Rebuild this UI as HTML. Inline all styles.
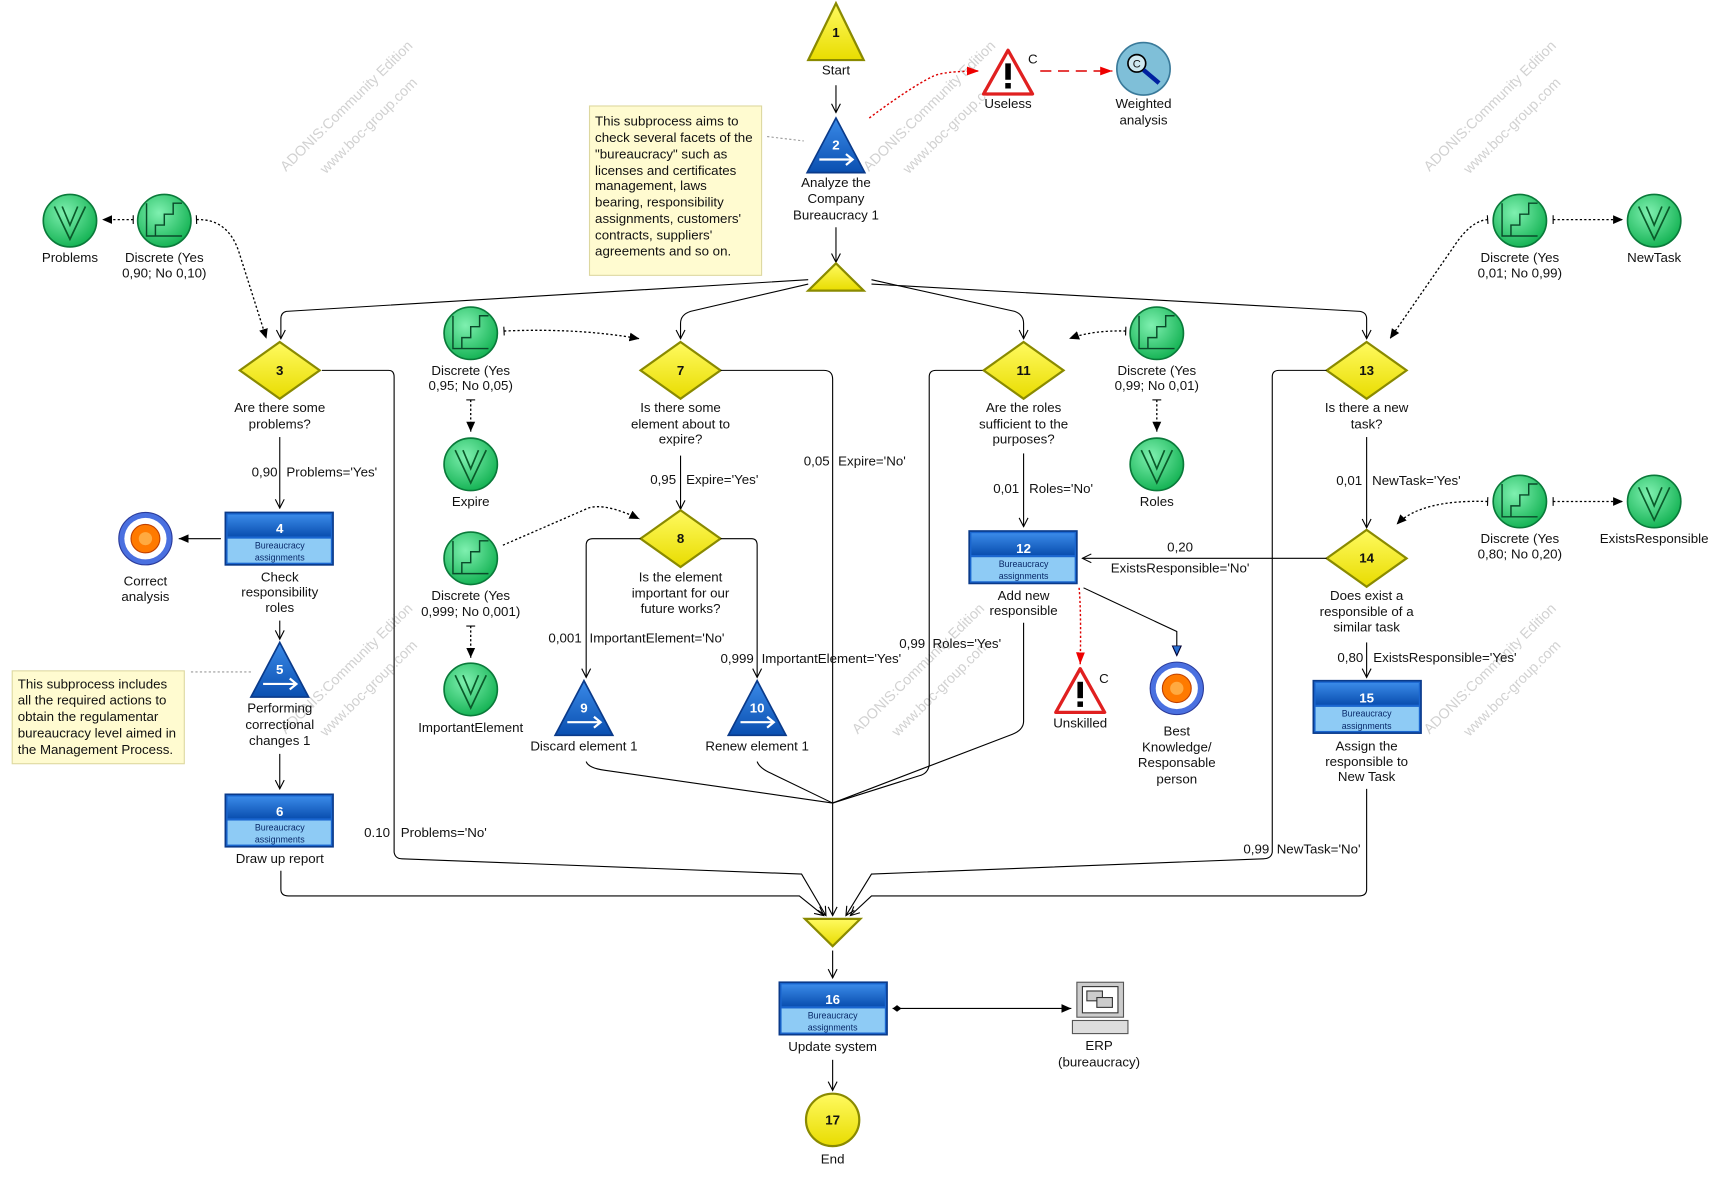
<!DOCTYPE html>
<html><head><meta charset="utf-8"><style>
html,body{margin:0;padding:0;background:#fff;}
svg{display:block;}
text{font-family:"Liberation Sans",Arial,sans-serif;font-size:12px;fill:#111;}
.c{text-anchor:middle;}
.n{font-size:12px;font-weight:bold;}
.w{font-size:13px;fill:#ccc;text-anchor:middle;}
.tiny{font-size:8px;fill:#0a2a6a;text-anchor:middle;}
.ln{fill:none;stroke:#000;stroke-width:1;}
.dt{fill:none;stroke:#000;stroke-width:1.2;stroke-dasharray:2,2;}
</style></head><body>
<svg width="1723" height="1180" viewBox="0 0 1552 1080" preserveAspectRatio="none" xmlns="http://www.w3.org/2000/svg">
<defs>
<marker id="a" markerWidth="10" markerHeight="10" refX="9" refY="5" orient="auto" markerUnits="userSpaceOnUse"><path d="M1,1 L9,5 L1,9" fill="none" stroke="#000"/></marker>
<marker id="af" markerWidth="10" markerHeight="10" refX="9" refY="5" orient="auto" markerUnits="userSpaceOnUse"><path d="M0,1 L9,5 L0,9z" fill="#000"/></marker>
<marker id="ar" markerWidth="12" markerHeight="10" refX="11" refY="5" orient="auto" markerUnits="userSpaceOnUse"><path d="M0,1 L11,5 L0,9z" fill="#e00"/></marker>
<marker id="ab" markerWidth="10" markerHeight="10" refX="9" refY="5" orient="auto" markerUnits="userSpaceOnUse"><path d="M0,1 L9,5 L0,9z" fill="#2a6fd0" stroke="#003"/></marker>
<marker id="dm" markerWidth="10" markerHeight="10" refX="1" refY="5" orient="auto" markerUnits="userSpaceOnUse"><path d="M1,5 L5,2 L9,5 L5,8z" fill="#000"/></marker>
<marker id="bar" markerWidth="4" markerHeight="10" refX="2" refY="5" orient="auto" markerUnits="userSpaceOnUse"><path d="M2,1 L2,9" stroke="#000"/></marker>
<linearGradient id="gy" x1="0" y1="0" x2="0" y2="1"><stop offset="0" stop-color="#fffa60"/><stop offset="1" stop-color="#e8dc00"/></linearGradient>
<linearGradient id="gb" x1="0" y1="0" x2="0" y2="1"><stop offset="0" stop-color="#3a8ae8"/><stop offset="1" stop-color="#0a4fb0"/></linearGradient>
<radialGradient id="gg" cx="0.4" cy="0.35" r="0.7"><stop offset="0" stop-color="#7ff0b0"/><stop offset="1" stop-color="#10b050"/></radialGradient>
<g id="tri"><polygon points="0,0 25,52 -25,52" fill="url(#gy)" stroke="#8a8a00" stroke-width="2"/></g>
<g id="btri"><polygon points="0,0 26,50 -26,50" fill="url(#gb)" stroke="#0a3a8a" stroke-width="1.5"/><path d="M-15,38 H15 M9,33 L15,38 L9,43" stroke="#fff" stroke-width="2" fill="none"/></g>
<g id="dia"><polygon points="0,-26 36,0 0,26 -36,0" fill="url(#gy)" stroke="#8a8a00" stroke-width="2"/></g>
<g id="vv"><circle r="24" fill="url(#gg)" stroke="#0a7a3a" stroke-width="1.5"/><path d="M-14,-13 L0,17 L14,-13 M-7,-13 L0,4 L7,-13" stroke="#0a5a2a" stroke-width="1.5" fill="none"/></g>
<g id="st"><circle r="24" fill="url(#gg)" stroke="#0a7a3a" stroke-width="1.5"/><path d="M-16,14 H-8 V4 H0 V-6 H8 V-16 H16 M-16,-16 V14 H16" stroke="#0a4a2a" stroke-width="1.3" fill="none"/></g>
<g id="act"><rect x="0" y="0" width="97" height="48" fill="#1a66d0" stroke="#0a3a8a" stroke-width="1.5"/><rect x="2" y="2" width="93" height="20" fill="url(#gb)"/><rect x="2" y="24" width="93" height="22" fill="#8ecbf5"/></g>
<g id="tgt"><circle r="24" fill="#4a70e0" stroke="#2a3a9a"/><circle r="19" fill="#fff"/><circle r="13" fill="#ff7a00" stroke="#c04000"/><circle r="6" fill="#ffaa40"/></g>
<g id="warn"><polygon points="0,0 22,40 -22,40" fill="#fff" stroke="#e02020" stroke-width="3" stroke-linejoin="round"/><rect x="-2.5" y="12" width="5" height="15" fill="#000"/><rect x="-2.5" y="30" width="5" height="5" fill="#000"/></g>
</defs>

<!-- watermarks -->
<g opacity="0.9">
<text class="w" transform="translate(315,100) rotate(-45)">ADONIS:Community Edition</text>
<text class="w" transform="translate(335,118) rotate(-45)">www.boc-group.com</text>
<text class="w" transform="translate(840,100) rotate(-45)">ADONIS:Community Edition</text>
<text class="w" transform="translate(860,118) rotate(-45)">www.boc-group.com</text>
<text class="w" transform="translate(1345,100) rotate(-45)">ADONIS:Community Edition</text>
<text class="w" transform="translate(1365,118) rotate(-45)">www.boc-group.com</text>
<text class="w" transform="translate(315,615) rotate(-45)">ADONIS:Community Edition</text>
<text class="w" transform="translate(335,633) rotate(-45)">www.boc-group.com</text>
<text class="w" transform="translate(830,615) rotate(-45)">ADONIS:Community Edition</text>
<text class="w" transform="translate(850,633) rotate(-45)">www.boc-group.com</text>
<text class="w" transform="translate(1345,615) rotate(-45)">ADONIS:Community Edition</text>
<text class="w" transform="translate(1365,633) rotate(-45)">www.boc-group.com</text>
</g>

<!-- top -->
<use href="#tri" x="753" y="3"/><text class="c n" x="753" y="34">1</text>
<text class="c" x="753" y="68">Start</text>
<path class="ln" d="M753,78 V103" marker-end="url(#a)"/>
<use href="#btri" x="753" y="108"/><text class="c n" x="753" y="137" style="fill:#fff">2</text>
<text class="c" x="753" y="171">Analyze the</text><text class="c" x="753" y="186">Company</text><text class="c" x="753" y="201">Bureaucracy 1</text>
<path class="ln" d="M753,208 V240" marker-end="url(#a)"/>
<polygon points="753,241 778,266 728,266" fill="url(#gy)" stroke="#8a8a00" stroke-width="2"/>

<rect x="531" y="97" width="155" height="155" fill="#fffbd0" stroke="#ddd8a0"/>
<g>
<text x="536" y="115">This subprocess aims to</text><text x="536" y="130">check several facets of the</text><text x="536" y="145">"bureaucracy" such as</text><text x="536" y="160">licenses and certificates</text><text x="536" y="174">management, laws</text><text x="536" y="189">bearing, responsibility</text><text x="536" y="204">assignments, customers'</text><text x="536" y="219">contracts, suppliers'</text><text x="536" y="234">agreements and so on.</text>
</g>
<path d="M691,125 L724,129" stroke="#999" stroke-dasharray="2,2" fill="none"/>

<path d="M783,108 Q820,80 840,70 Q850,65 882,65" fill="none" stroke="#d00" stroke-width="1.3" stroke-dasharray="2,2" marker-end="url(#ar)"/>
<use href="#warn" x="908" y="46"/><text x="926" y="58">C</text>
<text class="c" x="908" y="99">Useless</text>
<path d="M937,65 H1002" fill="none" stroke="#d00" stroke-width="1.3" stroke-dasharray="10,6" marker-end="url(#ar)"/>
<circle cx="1030" cy="63" r="24" fill="#7fbfd8" stroke="#3a7a9a" stroke-width="1.5"/>
<circle cx="1024" cy="58" r="8" fill="#cfe8f0" stroke="#000" stroke-width="1.5"/><text class="c" x="1024" y="62" style="font-size:10px">C</text>
<path d="M1030,64 L1044,76" stroke="#0020a0" stroke-width="4"/>
<text class="c" x="1030" y="99">Weighted</text><text class="c" x="1030" y="114">analysis</text>

<!-- split lines -->
<path class="ln" d="M728,256 L258,285 Q253,286 253,292 V310" marker-end="url(#a)"/>
<path class="ln" d="M728,260 L622,285 Q613,288 613,296 V310" marker-end="url(#a)"/>
<path class="ln" d="M785,256 L914,285 Q922,288 922,296 V310" marker-end="url(#a)"/>
<path class="ln" d="M785,260 L1225,285 Q1231,286 1231,292 V310" marker-end="url(#a)"/>

<!-- diamonds row -->
<use href="#dia" x="252" y="339"/><text class="c n" x="252" y="343">3</text>
<text class="c" x="252" y="377">Are there some</text><text class="c" x="252" y="392">problems?</text>
<use href="#dia" x="613" y="339"/><text class="c n" x="613" y="343">7</text>
<text class="c" x="613" y="377">Is there some</text><text class="c" x="613" y="392">element about to</text><text class="c" x="613" y="406">expire?</text>
<use href="#dia" x="922" y="339"/><text class="c n" x="922" y="343">11</text>
<text class="c" x="922" y="377">Are the roles</text><text class="c" x="922" y="392">sufficient to the</text><text class="c" x="922" y="406">purposes?</text>
<use href="#dia" x="1231" y="339"/><text class="c n" x="1231" y="343">13</text>
<text class="c" x="1231" y="377">Is there a new</text><text class="c" x="1231" y="392">task?</text>

<!-- left -->
<use href="#vv" x="63" y="202"/><text class="c" x="63" y="240">Problems</text>
<use href="#st" x="148" y="202"/><text class="c" x="148" y="240">Discrete (Yes</text><text class="c" x="148" y="254">0,90; No 0,10)</text>
<path class="dt" d="M120,201 H92" marker-end="url(#af)" marker-start="url(#bar)"/>
<path class="dt" d="M177,201 Q205,200 215,230 L240,310" marker-end="url(#af)" marker-start="url(#bar)"/>
<path class="ln" d="M252,400 V465" marker-end="url(#a)"/>
<text x="250" y="436" text-anchor="end">0,90</text><text x="258" y="436">Problems='Yes'</text>
<use href="#act" x="203" y="469"/><text class="c n" x="252" y="488" style="fill:#fff">4</text>
<text class="tiny" x="252" y="502">Bureaucracy</text><text class="tiny" x="252" y="513">assignments</text>
<text class="c" x="252" y="532">Check</text><text class="c" x="252" y="546">responsibility</text><text class="c" x="252" y="560">roles</text>
<path class="ln" d="M199,493 H161" marker-end="url(#af)"/>
<use href="#tgt" x="131" y="493"/><text class="c" x="131" y="536">Correct</text><text class="c" x="131" y="550">analysis</text>
<path class="ln" d="M252,568 V585" marker-end="url(#a)"/>
<use href="#btri" x="252" y="588"/><text class="c n" x="252" y="617" style="fill:#fff">5</text>
<text class="c" x="252" y="652">Performing</text><text class="c" x="252" y="667">correctional</text><text class="c" x="252" y="682">changes 1</text>
<rect x="11" y="614" width="155" height="85" fill="#fffbd0" stroke="#ddd8a0"/>
<text x="16" y="630">This subprocess includes</text><text x="16" y="645">all the required actions to</text><text x="16" y="660">obtain the regulamentar</text><text x="16" y="675">bureaucracy level aimed in</text><text x="16" y="690">the Management Process.</text>
<path d="M172,615 H226" stroke="#999" stroke-dasharray="2,2" fill="none"/>
<path class="ln" d="M252,690 V722" marker-end="url(#a)"/>
<use href="#act" x="203" y="727"/><text class="c n" x="252" y="747" style="fill:#fff">6</text>
<text class="tiny" x="252" y="760">Bureaucracy</text><text class="tiny" x="252" y="771">assignments</text>
<text class="c" x="252" y="790">Draw up report</text>
<path class="ln" d="M253,797 V814 Q253,820 260,820 H720 L742,838" marker-end="url(#a)"/>
<path class="ln" d="M290,339 H350 Q355,339 355,345 V780 Q356,786 362,786 L722,800 L744,838" marker-end="url(#a)"/>
<text x="328" y="766">0.10</text><text x="361" y="766">Problems='No'</text>

<!-- middle-left -->
<use href="#st" x="424" y="305"/><text class="c" x="424" y="343">Discrete (Yes</text><text class="c" x="424" y="357">0,95; No 0,05)</text>
<path class="dt" d="M454,303 Q520,300 576,310" marker-end="url(#af)" marker-start="url(#bar)"/>
<path class="dt" d="M424,366 V395" marker-end="url(#af)" marker-start="url(#bar)"/>
<use href="#vv" x="424" y="425"/><text class="c" x="424" y="463">Expire</text>
<use href="#st" x="424" y="511"/><text class="c" x="424" y="549">Discrete (Yes</text><text class="c" x="424" y="564">0,999; No 0,001)</text>
<path class="dt" d="M453,499 L530,465 Q545,460 576,475" marker-end="url(#af)"/>
<path class="dt" d="M424,573 V602" marker-end="url(#af)" marker-start="url(#bar)"/>
<use href="#vv" x="424" y="631"/><text class="c" x="424" y="670">ImportantElement</text>

<path class="ln" d="M613,417 V466" marker-end="url(#a)"/>
<text x="609" y="443" text-anchor="end">0,95</text><text x="618" y="443">Expire='Yes'</text>
<path class="ln" d="M649,339 H742 Q750,339 750,347 V838" marker-end="url(#a)"/>
<text x="724" y="426">0,05</text><text x="755" y="426">Expire='No'</text>
<use href="#dia" x="613" y="493"/><text class="c n" x="613" y="497">8</text>
<text class="c" x="613" y="532">Is the element</text><text class="c" x="613" y="547">important for our</text><text class="c" x="613" y="561">future works?</text>
<path class="ln" d="M577,493 H534 Q528,493 528,499 V620" marker-end="url(#a)"/>
<text x="494" y="588">0,001</text><text x="531" y="588">ImportantElement='No'</text>
<path class="ln" d="M649,493 H677 Q682,493 682,499 V620" marker-end="url(#a)"/>
<text x="649" y="607">0,999</text><text x="686" y="607">ImportantElement='Yes'</text>
<use href="#btri" x="526" y="623"/><text class="c n" x="526" y="652" style="fill:#fff">9</text>
<text class="c" x="526" y="687">Discard element 1</text>
<use href="#btri" x="682" y="623"/><text class="c n" x="682" y="652" style="fill:#fff">10</text>
<text class="c" x="682" y="687">Renew element 1</text>
<path class="ln" d="M528,697 Q530,703 545,705 L750,735"/>
<path class="ln" d="M682,697 Q684,703 695,708 L750,735"/>

<!-- middle-right -->
<use href="#st" x="1042" y="305"/><text class="c" x="1042" y="343">Discrete (Yes</text><text class="c" x="1042" y="357">0,99; No 0,01)</text>
<path class="dt" d="M1014,303 Q985,302 963,310" marker-end="url(#af)" marker-start="url(#bar)"/>
<path class="dt" d="M1042,366 V395" marker-end="url(#af)" marker-start="url(#bar)"/>
<use href="#vv" x="1042" y="425"/><text class="c" x="1042" y="463">Roles</text>
<path class="ln" d="M922,415 V482" marker-end="url(#a)"/>
<text x="918" y="451" text-anchor="end">0,01</text><text x="927" y="451">Roles='No'</text>
<path class="ln" d="M885,339 H843 Q837,339 837,345 V700 Q836,708 828,710 L750,735"/>
<text x="810" y="593">0,99</text><text x="840" y="593">Roles='Yes'</text>
<use href="#act" x="873" y="486"/><text class="c n" x="922" y="506" style="fill:#fff">12</text>
<text class="tiny" x="922" y="519">Bureaucracy</text><text class="tiny" x="922" y="530">assignments</text>
<text class="c" x="922" y="549">Add new</text><text class="c" x="922" y="563">responsible</text>
<path class="ln" d="M922,570 V660 Q922,668 912,672 L750,735"/>
<path d="M972,538 Q974,560 973,608" fill="none" stroke="#d00" stroke-width="1.3" stroke-dasharray="2,2" marker-end="url(#ar)"/>
<use href="#warn" x="973" y="612"/><text x="990" y="625">C</text>
<text class="c" x="973" y="666">Unskilled</text>
<path d="M976,538 L1060,578 V600" fill="none" stroke="#000" marker-end="url(#ab)"/>
<use href="#tgt" x="1060" y="630"/>
<text class="c" x="1060" y="673">Best</text><text class="c" x="1060" y="688">Knowledge/</text><text class="c" x="1060" y="702">Responsable</text><text class="c" x="1060" y="717">person</text>

<!-- right -->
<use href="#st" x="1369" y="202"/><text class="c" x="1369" y="240">Discrete (Yes</text><text class="c" x="1369" y="254">0,01; No 0,99)</text>
<path class="dt" d="M1399,201 H1462" marker-end="url(#af)" marker-start="url(#bar)"/>
<use href="#vv" x="1490" y="202"/><text class="c" x="1490" y="240">NewTask</text>
<path class="dt" d="M1340,201 Q1325,202 1310,225 L1252,310" marker-end="url(#af)" marker-start="url(#bar)"/>
<path class="ln" d="M1231,400 V483" marker-end="url(#a)"/>
<text x="1227" y="444" text-anchor="end">0,01</text><text x="1236" y="444">NewTask='Yes'</text>
<use href="#dia" x="1231" y="511"/><text class="c n" x="1231" y="515">14</text>
<text class="c" x="1231" y="549">Does exist a</text><text class="c" x="1231" y="564">responsible of a</text><text class="c" x="1231" y="578">similar task</text>
<use href="#st" x="1369" y="459"/><text class="c" x="1369" y="497">Discrete (Yes</text><text class="c" x="1369" y="511">0,80; No 0,20)</text>
<path class="dt" d="M1340,459 Q1280,457 1258,480" marker-end="url(#af)" marker-start="url(#bar)"/>
<path class="dt" d="M1399,459 H1462" marker-end="url(#af)" marker-start="url(#bar)"/>
<use href="#vv" x="1490" y="459"/><text class="c" x="1490" y="497">ExistsResponsible</text>
<path class="ln" d="M1195,511 H975" marker-end="url(#a)"/>
<text class="c" x="1063" y="505">0,20</text><text class="c" x="1063" y="524">ExistsResponsible='No'</text>
<path class="ln" d="M1231,588 V620" marker-end="url(#a)"/>
<text x="1228" y="606" text-anchor="end">0,80</text><text x="1237" y="606">ExistsResponsible='Yes'</text>
<use href="#act" x="1183" y="623"/><text class="c n" x="1231" y="643" style="fill:#fff">15</text>
<text class="tiny" x="1231" y="656">Bureaucracy</text><text class="tiny" x="1231" y="667">assignments</text>
<text class="c" x="1231" y="687">Assign the</text><text class="c" x="1231" y="701">responsible to</text><text class="c" x="1231" y="715">New Task</text>
<path class="ln" d="M1231,722 V814 Q1231,820 1224,820 H785 L766,838" marker-end="url(#a)"/>
<path class="ln" d="M1195,339 H1152 Q1146,339 1146,345 V780 Q1145,786 1138,786 L785,800 L762,838" marker-end="url(#a)"/>
<text x="1120" y="781">0,99</text><text x="1150" y="781">NewTask='No'</text>

<!-- bottom -->
<polygon points="725,841 775,841 750,866" fill="url(#gy)" stroke="#8a8a00" stroke-width="2"/>
<path class="ln" d="M750,870 V895" marker-end="url(#a)"/>
<use href="#act" x="702" y="899"/><text class="c n" x="750" y="919" style="fill:#fff">16</text>
<text class="tiny" x="750" y="932">Bureaucracy</text><text class="tiny" x="750" y="943">assignments</text>
<text class="c" x="750" y="962">Update system</text>
<path class="ln" d="M804,923 H965" marker-start="url(#dm)" marker-end="url(#af)"/>
<rect x="970" y="899" width="42" height="32" fill="#ccc" stroke="#555"/>
<rect x="975" y="903" width="32" height="24" fill="#fff" stroke="#333"/>
<rect x="979" y="907" width="14" height="9" fill="#ccc" stroke="#333"/><rect x="988" y="913" width="14" height="9" fill="#ccc" stroke="#333"/>
<rect x="966" y="934" width="50" height="12" fill="#ddd" stroke="#555"/>
<text class="c" x="990" y="961">ERP</text><text class="c" x="990" y="976">(bureaucracy)</text>
<path class="ln" d="M750,970 V998" marker-end="url(#a)"/>
<circle cx="750" cy="1025" r="24" fill="url(#gy)" stroke="#8a8a00" stroke-width="2"/><text class="c n" x="750" y="1029">17</text>
<text class="c" x="750" y="1065">End</text>
</svg>
</body></html>
